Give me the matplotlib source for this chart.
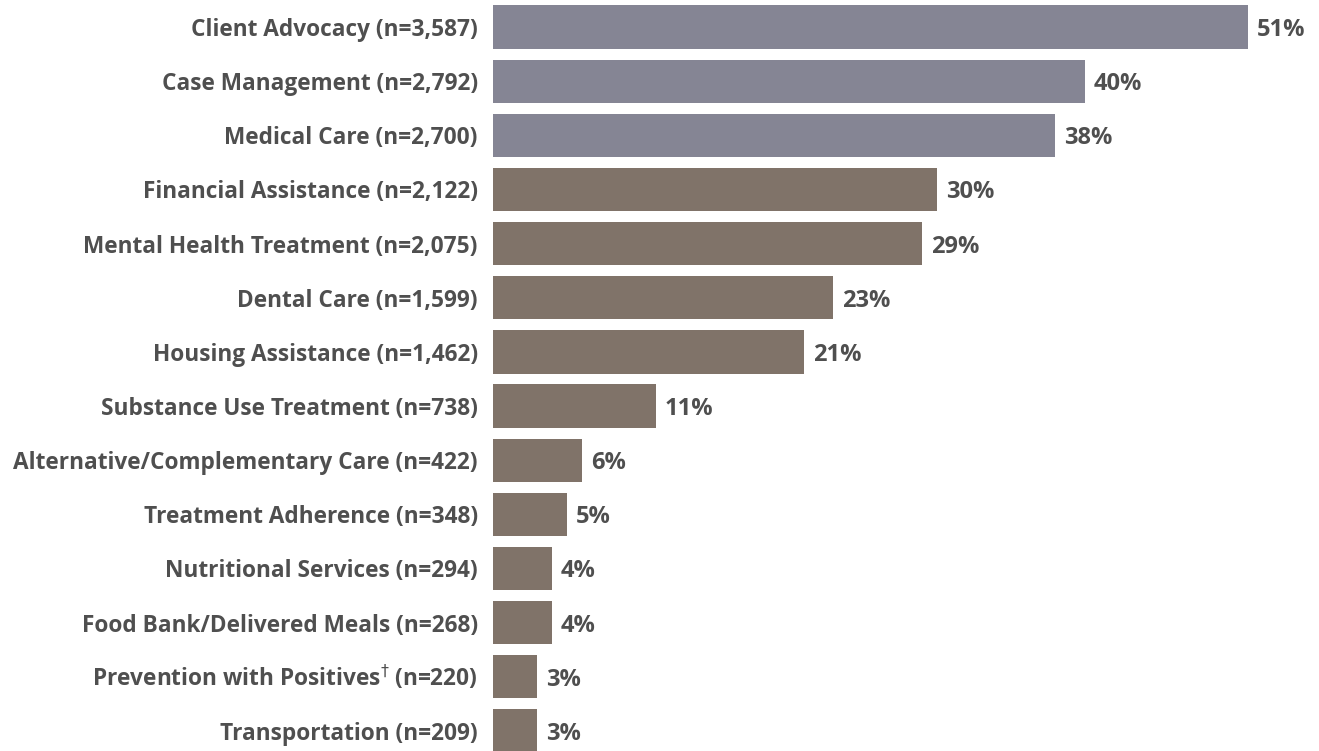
import matplotlib
matplotlib.use("Agg")
import matplotlib.pyplot as plt
from matplotlib.transforms import ScaledTranslation

categories = [
    "Client Advocacy (n=3,587)",
    "Case Management (n=2,792)",
    "Medical Care (n=2,700)",
    "Financial Assistance (n=2,122)",
    "Mental Health Treatment (n=2,075)",
    "Dental Care (n=1,599)",
    "Housing Assistance (n=1,462)",
    "Substance Use Treatment (n=738)",
    "Alternative/Complementary Care (n=422)",
    "Treatment Adherence (n=348)",
    "Nutritional Services (n=294)",
    "Food Bank/Delivered Meals (n=268)",
    "Prevention with Positives$^{\\dagger}$ (n=220)",
    "Transportation (n=209)",
]
values = [51, 40, 38, 30, 29, 23, 21, 11, 6, 5, 4, 4, 3, 3]
labels = ["51%", "40%", "38%", "30%", "29%", "23%", "21%", "11%", "6%", "5%", "4%", "4%", "3%", "3%"]
n_highlight = 3

plt.rcParams['font.family'] = ['Open Sans', 'DejaVu Sans']
blue_gray = "#858594"
brown = "#807369"
text_color = "#4f4f4f"

fig = plt.figure(figsize=(13.19, 7.51), dpi=100)
ax = fig.add_axes([493 / 1319, 0, 1 - 493 / 1319, 1])
colors = [blue_gray if i < n_highlight else brown for i in range(len(values))]
y = list(range(len(values)))
ax.barh(y, values, height=0.8, color=colors)
ax.set_xlim(0, 826 / 14.8)
ax.set_ylim(13.5 - 7 / 54.15, -0.5)
ax.set_yticks(y)
ax.set_yticklabels(categories, fontsize=16.3, fontweight='bold', color=text_color)
ax.tick_params(axis='y', length=0, pad=11)
for t in ax.get_yticklabels():
    if "dagger" in t.get_text():
        t.set_transform(t.get_transform() + ScaledTranslation(0, 2 / 100, fig.dpi_scale_trans))
ax.set_xticks([])
for s in ax.spines.values():
    s.set_visible(False)
for yi, v, lab in zip(y, values, labels):
    ax.text(v + 0.6, yi, lab, va='center_baseline', ha='left', fontsize=17,
            fontweight='bold', color=text_color)

fig.savefig("out.png", dpi=100)
